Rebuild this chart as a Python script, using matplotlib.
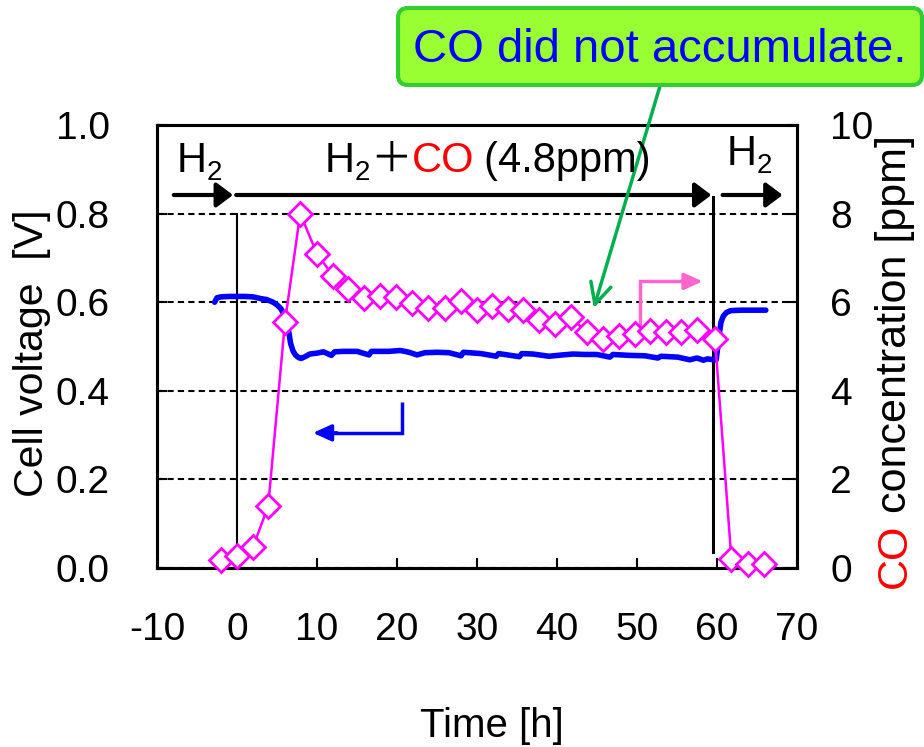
import matplotlib
matplotlib.use('Agg')
import matplotlib.pyplot as plt
from matplotlib.patches import FancyBboxPatch

plt.rcParams['font.family'] = ['Liberation Sans', 'Noto Sans CJK JP', 'DejaVu Sans']

# ---------------- data ----------------
volt_time = [-2.8, -2.5, -2.0, -1.0, 0.0, 1.0, 2.0, 3.0, 3.7, 4.5, 5.0, 5.5, 6.0, 6.3,
             6.5, 6.7, 7.0, 7.3, 7.7, 8.0, 8.5, 9.1, 10.0, 10.8, 11.8, 12.2, 13.3, 15.0,
             16.5, 16.8, 17.5, 19.0, 20.4, 21.5, 22.5, 23.5, 25.0, 26.5, 28.0, 28.3, 30.5,
             32.4, 32.7, 35.3, 35.6, 37.0, 39.0, 40.7, 42.0, 43.5, 45.0, 46.6, 47.0, 49.0,
             51.0, 52.6, 53.0, 55.1, 56.6, 57.5, 58.3, 58.8, 59.6, 59.9, 60.1, 60.3, 60.5,
             60.8, 61.2, 61.7, 63.0, 64.5, 66.1]
volt = [0.600, 0.610, 0.612, 0.613, 0.613, 0.613, 0.612, 0.608, 0.606, 0.600, 0.594, 0.585,
        0.567, 0.545, 0.530, 0.507, 0.490, 0.481, 0.475, 0.473, 0.477, 0.483, 0.485, 0.488,
        0.480, 0.488, 0.489, 0.489, 0.481, 0.489, 0.489, 0.489, 0.491, 0.487, 0.481, 0.486,
        0.487, 0.486, 0.479, 0.487, 0.484, 0.478, 0.484, 0.477, 0.484, 0.483, 0.478, 0.481,
        0.483, 0.482, 0.482, 0.476, 0.482, 0.480, 0.479, 0.474, 0.478, 0.476, 0.470, 0.474,
        0.469, 0.472, 0.470, 0.470, 0.500, 0.530, 0.555, 0.569, 0.577, 0.581, 0.582, 0.582,
        0.582]

co_time = [-2.0, 0.0, 2.0, 3.9, 6.0, 7.9, 10.0, 12.0, 13.9, 15.9, 17.9, 19.9, 21.9, 23.9,
           26.0, 28.0, 30.0, 31.9, 33.9, 35.8, 37.8, 39.8, 41.7, 43.7, 45.7, 47.7, 49.7,
           51.6, 53.6, 55.5, 57.5, 59.75, 61.8, 63.9, 65.9]
co_ppm = [0.18, 0.28, 0.47, 1.4, 5.56, 8.0, 7.09, 6.6, 6.29, 6.09, 6.14, 6.12, 5.98, 5.86,
          5.86, 6.03, 5.82, 5.91, 5.84, 5.82, 5.6, 5.5, 5.67, 5.32, 5.18, 5.23, 5.28,
          5.35, 5.32, 5.32, 5.37, 5.17, 0.2, 0.1, 0.08]

x_ticks = [-10, 0, 10, 20, 30, 40, 50, 60, 70]
v_ticks = [0.0, 0.2, 0.4, 0.6, 0.8, 1.0]
v_ticklabels = ['0.0', '0.2', '0.4', '0.6', '0.8', '1.0']
ppm_ticks = [0, 2, 4, 6, 8, 10]

# ---------------- layout ----------------
W, H = 924, 747
fig = plt.figure(figsize=(W / 100, H / 100), dpi=100)
renderer = fig.canvas.get_renderer()
L, R, B, T = 157, 797, 568, 125
ax = fig.add_axes([L / W, 1 - B / H, (R - L) / W, (B - T) / H])
ax.set_xlim(-10, 70)
ax.set_ylim(0, 1.0)
ax2 = ax.twinx()
ax2.set_ylim(0, 10)

ax.set_xticks(x_ticks)
ax.set_xticklabels([str(v) for v in x_ticks])
ax.set_yticks(v_ticks)
ax.set_yticklabels(v_ticklabels)
ax2.set_yticks(ppm_ticks)
ax2.set_yticklabels([str(v) for v in ppm_ticks])

ax.grid(axis='y', color='black', linestyle=(0, (3, 2)), linewidth=1.5, zorder=1)
ax.set_axisbelow(True)

ax.tick_params(axis='both', direction='in', length=7, width=1.5, labelsize=28)
ax.tick_params(axis='y', pad=34)
ax.tick_params(axis='x', pad=32)
ax2.tick_params(axis='y', direction='in', length=7, width=1.5, labelsize=28, pad=24)
for a in (ax, ax2):
    for s in a.spines.values():
        s.set_linewidth(2.2)

# vertical marker lines
ax.plot([0, 0], [0, 0.8], color='black', lw=1.5, zorder=2)
ax.plot([59.5, 59.5], [0.035, 0.838], color='black', lw=2.2, zorder=2)

# voltage
ax.plot(volt_time, volt, color='#0000FF', lw=4, solid_capstyle='round',
        solid_joinstyle='round', zorder=3)

# CO concentration
ax2.plot(co_time, co_ppm, color='#FF00FF', lw=1.8, marker='D', ms=12,
         mfc='white', mec='#FF00FF', mew=2.0, clip_on=False, zorder=3)


def harrow(a, x0, x1, y, color, lw, hl, hw, ms=10):
    a.annotate('', xy=(x1, y), xytext=(x0, y),
               arrowprops=dict(arrowstyle=f'-|>,head_length={hl},head_width={hw}',
                               color=color, lw=lw, shrinkA=0, shrinkB=0,
                               mutation_scale=ms),
               annotation_clip=False)


# gas supply arrows
yA = 0.842
harrow(ax, -7.9, -0.5, yA, 'black', 3, 1.0, 0.75)
harrow(ax, -0.1, 59.3, yA, 'black', 3, 1.0, 0.75)
harrow(ax, 60.7, 68.2, yA, 'black', 3, 1.0, 0.75)

# axis-indicating bent arrows
ax.plot([20.6, 20.6, 12.0], [0.375, 0.305, 0.305], color='#0000FF', lw=2.5,
        solid_joinstyle='miter', solid_capstyle='butt')
harrow(ax, 12.5, 9.5, 0.305, '#0000FF', 2.5, 1.1, 0.5)
ax.plot([50.4, 50.4, 56.0], [0.546, 0.647, 0.647], color='#FF66CC', lw=2.5,
        solid_joinstyle='miter', solid_capstyle='butt')
harrow(ax, 55.5, 58.2, 0.647, '#FF66CC', 2.5, 1.1, 0.5)


def chain(px, py, pieces):
    """Place text pieces one after another, starting at pixel (px, py) from top-left."""
    cur = px
    for s, color, size, dy, gap in pieces:
        t = fig.text(cur / W, 1 - (py + dy) / H, s, color=color, fontsize=size,
                     ha='left', va='baseline', zorder=5)
        bb = t.get_window_extent(renderer)
        cur = bb.x1 + gap


chain(177, 172, [('H', 'black', 30, 0, 0), ('2', 'black', 20, 8, 0)])
chain(325, 172, [('H', 'black', 30, 0, 0), ('2', 'black', 20, 8, 0),
                 ('＋', 'black', 30, 0, 0), ('CO', '#FF0000', 30, 0, 9),
                 ('(', 'black', 30, 0, 1), ('4.8ppm)', 'black', 30, 0, 0)])
chain(727, 165, [('H', 'black', 30, 0, 0), ('2', 'black', 20, 8, 0)])

# axis titles
fig.text(32 / W, 1 - 353 / H, 'Cell voltage  [V]', rotation=90, ha='center',
         va='center', fontsize=29.5)
fig.text(492 / W, 1 - 737 / H, 'Time [h]', ha='center', va='baseline', fontsize=29)

t1 = fig.text(906 / W, 1 - 588 / H, 'CO', color='#FF0000', rotation=90,
              rotation_mode='anchor', ha='left', va='baseline', fontsize=31)
bb = t1.get_window_extent(renderer)
fig.text(906 / W, (bb.y1 + 11) / H, 'concentration [ppm]', color='black', rotation=90,
         rotation_mode='anchor', ha='left', va='baseline', fontsize=31)

# callout box
box = FancyBboxPatch((3.98, (H - 85) / 100), 5.24, 0.77,
                     boxstyle='round,pad=0,rounding_size=0.1',
                     facecolor='#99FF33', edgecolor='#33CC33', lw=3,
                     transform=fig.dpi_scale_trans, zorder=10)
fig.add_artist(box)
fig.text(660 / W, 1 - 62 / H, 'CO did not accumulate.', color='#0000FF', fontsize=34,
         ha='center', va='baseline', zorder=11)

ax2.annotate('', xy=(44.6, 0.587), xycoords=ax.transData,
             xytext=(660 / W, 1 - 86 / H), textcoords='figure fraction',
             arrowprops=dict(arrowstyle='->,head_length=1.0,head_width=0.5',
                             color='#00B050', lw=2.5, shrinkA=0, shrinkB=0,
                             mutation_scale=15),
             annotation_clip=False, zorder=6)

fig.savefig('out.png', dpi=100)
